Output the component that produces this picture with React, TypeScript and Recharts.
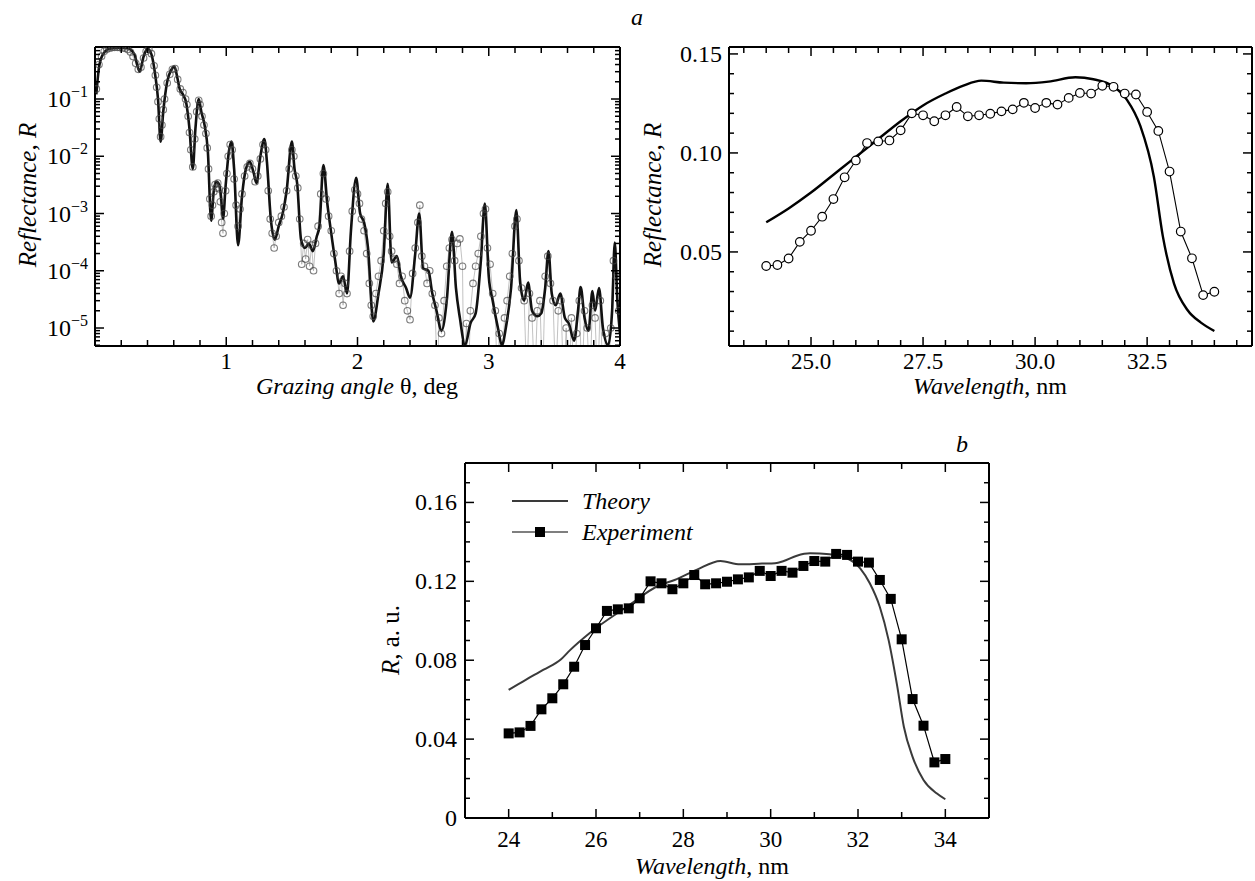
import React from 'react';
import { ComposedChart, Line, XAxis, YAxis, Legend } from 'recharts';

const FONT = 'Liberation Serif, DejaVu Serif, serif';

// ---- panel a (left): reflectance vs grazing angle, [theta, R]
const xrrTheory: [number, number][] = [
  [0.01, 0.12], [0.03, 0.35], [0.06, 0.6], [0.1, 0.74], [0.15, 0.78], [0.2, 0.79], [0.25, 0.77], [0.3, 0.6],
  [0.34, 0.3], [0.37, 0.55], [0.4, 0.76], [0.43, 0.6], [0.46, 0.25], [0.48, 0.1], [0.5, 0.018], [0.52, 0.06],
  [0.55, 0.2], [0.58, 0.32], [0.605, 0.37], [0.625, 0.25], [0.645, 0.15], [0.67, 0.12], [0.695, 0.085], [0.72, 0.03],
  [0.745, 0.006], [0.765, 0.03], [0.79, 0.1], [0.81, 0.06], [0.835, 0.035], [0.86, 0.012], [0.885, 7.5e-4], [0.905, 2.5e-3],
  [0.925, 3.6e-3], [0.945, 3.2e-3], [0.96, 2e-3], [0.975, 8e-4], [0.995, 3e-3], [1.02, 0.012], [1.04, 0.018], [1.06, 0.006],
  [1.09, 2.8e-4], [1.12, 2e-3], [1.15, 6e-3], [1.18, 8e-3], [1.21, 5e-3], [1.23, 3.4e-3], [1.26, 0.01], [1.29, 0.02],
  [1.31, 0.008], [1.34, 7.8e-4], [1.37, 3.5e-4], [1.4, 6e-4], [1.43, 1e-3], [1.46, 2.5e-3], [1.5, 0.018], [1.52, 6e-3],
  [1.54, 3.4e-3], [1.57, 3.5e-4], [1.6, 2.5e-4], [1.63, 3e-4], [1.66, 2.2e-4], [1.69, 4e-4], [1.71, 6e-4], [1.74, 7e-3],
  [1.77, 1.5e-3], [1.8, 4.5e-4], [1.83, 1.5e-4], [1.86, 6e-5], [1.89, 8e-5], [1.92, 4e-5], [1.95, 5e-4], [1.99, 4.2e-3],
  [2.02, 1e-3], [2.05, 7e-4], [2.08, 2.5e-4], [2.12, 1.3e-5], [2.16, 4e-5], [2.2, 2e-4], [2.23, 3.3e-3], [2.26, 1.4e-4],
  [2.3, 1.8e-4], [2.33, 8e-5], [2.37, 5e-5], [2.4, 3.4e-5], [2.44, 2e-4], [2.47, 1e-3], [2.5, 1.1e-4], [2.54, 1e-4],
  [2.57, 4e-5], [2.6, 2.1e-5], [2.64, 9e-6], [2.68, 3e-5], [2.72, 4.8e-4], [2.75, 5e-5], [2.78, 1.5e-5], [2.82, 5e-6],
  [2.86, 1.2e-5], [2.9, 1.8e-5], [2.94, 1.5e-4], [2.97, 1.5e-3], [3.0, 8e-5], [3.03, 3e-5], [3.07, 1e-5], [3.1, 5e-6],
  [3.13, 1e-5], [3.17, 5e-5], [3.21, 1.15e-3], [3.24, 6e-5], [3.27, 3e-5], [3.3, 6.2e-5], [3.33, 2e-5], [3.37, 1.6e-5],
  [3.4, 1.8e-5], [3.43, 5e-5], [3.455, 2.2e-4], [3.48, 4e-5], [3.51, 2.5e-5], [3.545, 4e-5], [3.58, 1.5e-5], [3.61, 1.2e-5],
  [3.65, 6e-6], [3.68, 2e-5], [3.7, 5.2e-5], [3.73, 1.5e-5], [3.76, 9e-6], [3.79, 4.4e-5], [3.81, 2e-5], [3.84, 5e-5],
  [3.87, 1e-5], [3.91, 5e-6], [3.94, 2e-5], [3.96, 3.1e-4], [3.98, 3e-5], [4.0, 8e-6],
];

// measured points; 1e-6 = drop-out below the axis
const xrrMeasured: [number, number][] = [
  [0.01, 0.15], [0.03, 0.4], [0.05, 0.56], [0.07, 0.68], [0.09, 0.74], [0.11, 0.77], [0.13, 0.79], [0.15, 0.8],
  [0.17, 0.8], [0.19, 0.79], [0.21, 0.78], [0.23, 0.77], [0.25, 0.73], [0.27, 0.66], [0.29, 0.55], [0.31, 0.42],
  [0.33, 0.33], [0.35, 0.36], [0.37, 0.52], [0.39, 0.68], [0.41, 0.74], [0.43, 0.62], [0.45, 0.38], [0.46, 0.26],
  [0.47, 0.16], [0.48, 0.09], [0.49, 0.045], [0.5, 0.022], [0.51, 0.035], [0.52, 0.065], [0.53, 0.1], [0.55, 0.19],
  [0.57, 0.27], [0.59, 0.33], [0.61, 0.34], [0.63, 0.22], [0.65, 0.15], [0.67, 0.13], [0.69, 0.1], [0.7, 0.08],
  [0.71, 0.05], [0.72, 0.026], [0.73, 0.013], [0.745, 0.0065], [0.76, 0.02], [0.775, 0.06], [0.79, 0.095], [0.8, 0.08],
  [0.815, 0.05], [0.83, 0.035], [0.845, 0.025], [0.855, 0.014], [0.865, 0.006], [0.875, 0.0018], [0.885, 9e-4], [0.895, 1.4e-3],
  [0.905, 2.4e-3], [0.915, 3.2e-3], [0.925, 2.8e-3], [0.935, 3.4e-3], [0.945, 2.7e-3], [0.955, 1.6e-3], [0.965, 7e-4], [0.975, 4.5e-4],
  [0.985, 1e-3], [0.995, 2.5e-3], [1.005, 5e-3], [1.015, 0.01], [1.03, 0.016], [1.045, 0.013], [1.06, 4e-3], [1.075, 1.4e-3],
  [1.09, 6e-4], [1.105, 1.2e-3], [1.12, 2.2e-3], [1.14, 4.5e-3], [1.16, 6.5e-3], [1.18, 7.5e-3], [1.2, 6e-3], [1.22, 3.6e-3],
  [1.24, 4.5e-3], [1.26, 9e-3], [1.28, 0.016], [1.3, 0.013], [1.32, 2.5e-3], [1.335, 8e-4], [1.35, 4.5e-4], [1.365, 2.5e-4],
  [1.38, 4e-4], [1.4, 7e-4], [1.42, 9e-4], [1.44, 1.3e-3], [1.46, 2.5e-3], [1.48, 6e-3], [1.5, 0.013], [1.515, 0.01],
  [1.53, 4.5e-3], [1.545, 2.8e-3], [1.56, 8e-4], [1.575, 1.3e-4], [1.59, 3e-4], [1.605, 1.6e-4], [1.62, 3.5e-4], [1.635, 1.2e-4],
  [1.65, 2.8e-4], [1.665, 1e-4], [1.68, 3e-4], [1.7, 6e-4], [1.72, 2.2e-3], [1.74, 5e-3], [1.76, 1.8e-3], [1.78, 9e-4],
  [1.8, 5e-4], [1.82, 2e-4], [1.84, 1e-4], [1.86, 4e-5], [1.875, 8e-5], [1.89, 2.5e-5], [1.905, 6e-5], [1.92, 4e-5],
  [1.94, 2.2e-4], [1.96, 1.1e-3], [1.98, 2.6e-3], [2.0, 2.2e-3], [2.015, 1.5e-3], [2.03, 8e-4], [2.05, 5e-4], [2.07, 2e-4],
  [2.09, 6e-5], [2.105, 2.5e-5], [2.12, 1.6e-5], [2.14, 4e-5], [2.16, 8e-5], [2.18, 1.5e-4], [2.2, 5e-4], [2.215, 1.5e-3],
  [2.23, 2.4e-3], [2.245, 4e-4], [2.26, 2.2e-4], [2.28, 1.6e-4], [2.3, 1.3e-4], [2.32, 6e-5], [2.34, 8e-5], [2.36, 3e-5],
  [2.38, 2e-5], [2.4, 1.4e-5], [2.42, 9e-5], [2.44, 2.5e-4], [2.46, 7e-4], [2.475, 1.4e-3], [2.49, 1.8e-4], [2.51, 1.2e-4],
  [2.53, 6e-5], [2.55, 1e-4], [2.57, 4e-5], [2.59, 2.5e-5], [2.61, 1e-6], [2.62, 1.5e-5], [2.64, 8e-6], [2.66, 3e-5],
  [2.68, 1.2e-4], [2.7, 2.5e-4], [2.72, 3.5e-4], [2.74, 1.5e-4], [2.76, 3e-4], [2.78, 3.6e-4], [2.8, 1.2e-4], [2.81, 1e-6],
  [2.83, 1.2e-5], [2.845, 1e-6], [2.86, 2e-5], [2.88, 6e-5], [2.9, 1.2e-4], [2.92, 2e-4], [2.94, 4e-4], [2.96, 1e-3],
  [2.975, 1.2e-3], [2.99, 2.5e-4], [3.01, 1.3e-4], [3.03, 4e-5], [3.05, 2e-5], [3.065, 1e-6], [3.08, 8e-6], [3.1, 1e-6],
  [3.12, 1.5e-5], [3.14, 3e-5], [3.16, 8e-5], [3.18, 2e-4], [3.2, 6e-4], [3.215, 8e-4], [3.23, 1.5e-4], [3.25, 5e-5],
  [3.27, 3e-5], [3.29, 1e-6], [3.31, 4e-5], [3.33, 1.5e-5], [3.35, 1e-6], [3.37, 2e-5], [3.39, 3e-5], [3.41, 1e-6],
  [3.43, 8e-5], [3.45, 1.8e-4], [3.47, 6e-5], [3.49, 3e-5], [3.51, 1e-6], [3.53, 2e-5], [3.55, 3e-5], [3.57, 1e-6],
  [3.59, 1e-5], [3.61, 1e-6], [3.63, 1.5e-5], [3.65, 1e-6], [3.67, 8e-6], [3.69, 3e-5], [3.71, 1e-6], [3.73, 2e-5],
  [3.75, 1e-5], [3.77, 1e-6], [3.79, 2.5e-5], [3.81, 1.5e-5], [3.83, 1e-6], [3.85, 3e-5], [3.87, 1e-6], [3.89, 8e-6],
  [3.91, 1e-6], [3.93, 1e-5], [3.95, 1.5e-4], [3.97, 8e-5], [3.99, 2e-5],
];

// ---- wavelength panels
const wlMeasured = [
  24, 24.25, 24.5, 24.75, 25, 25.25, 25.5, 25.75, 26, 26.25, 26.5, 26.75, 27, 27.25, 27.5, 27.75, 28, 28.25, 28.5, 28.75,
  29, 29.25, 29.5, 29.75, 30, 30.25, 30.5, 30.75, 31, 31.25, 31.5, 31.75, 32, 32.25, 32.5, 32.75, 33, 33.25, 33.5, 33.75, 34,
];
const rMeasured = [
  0.0429, 0.0434, 0.0467, 0.0551, 0.0607, 0.0678, 0.0767, 0.0877, 0.0962, 0.105, 0.1058, 0.1063, 0.1114, 0.12, 0.119, 0.116,
  0.119, 0.1232, 0.1185, 0.119, 0.1198, 0.121, 0.122, 0.1253, 0.1227, 0.1253, 0.1244, 0.1278, 0.1303, 0.13, 0.1339, 0.1334,
  0.13, 0.1295, 0.1207, 0.1111, 0.0906, 0.0603, 0.0468, 0.0282, 0.0299,
];

const wlTheoryA = [24, 24.5, 25, 25.5, 26, 26.5, 27, 27.5, 28, 28.4, 28.8, 29.3, 29.8, 30.3, 30.9, 31.3, 31.75, 32.05, 32.35, 32.65, 32.85, 33.1, 33.4, 33.7, 34];
const rTheoryA = [0.065, 0.072, 0.08, 0.089, 0.098, 0.107, 0.116, 0.124, 0.13, 0.134, 0.1365, 0.1355, 0.1352, 0.136, 0.1382, 0.1372, 0.1335, 0.1268, 0.1135, 0.088, 0.058, 0.034, 0.0207, 0.0143, 0.0101];

const wlTheoryB = [24, 24.4, 24.8, 25.2, 25.4, 25.85, 26.7, 27.45, 27.8, 28.3, 28.85, 29.3, 29.8, 30.1, 30.3, 30.6, 30.9, 31.35, 31.75, 32.05, 32.27, 32.5, 32.7, 32.9, 33.05, 33.25, 33.5, 33.8, 34];
const rTheoryB = [0.065, 0.0702, 0.0752, 0.0805, 0.085, 0.0937, 0.107, 0.118, 0.1207, 0.1258, 0.1303, 0.1286, 0.129, 0.1292, 0.1303, 0.133, 0.1342, 0.1337, 0.1317, 0.1266, 0.119, 0.107, 0.0903, 0.0666, 0.0463, 0.031, 0.0193, 0.0125, 0.0095];

// tick values
const decadeTicks = [1e-5, 1e-4, 1e-3, 1e-2, 1e-1];
const decadeLabels = ['−5', '−4', '−3', '−2', '−1'];
const angleTicks = Array.from({ length: 21 }, (_, i) => +(i * 0.2).toFixed(1));
const angleLabels = [1, 2, 3, 4];
const wlTicksA = Array.from({ length: 23 }, (_, i) => 23.5 + i * 0.5);
const wlLabelsA = [25, 27.5, 30, 32.5];
const rTicksA = Array.from({ length: 15 }, (_, i) => +((i + 1) * 0.01).toFixed(2));
const rLabelsA = [0.05, 0.1, 0.15];
const wlTicksB = Array.from({ length: 11 }, (_, i) => 24 + i);
const wlLabelsB = [24, 26, 28, 30, 32, 34];
const rTicksB = Array.from({ length: 18 }, (_, i) => +(i * 0.01).toFixed(2));
const rLabelsB = [0, 0.04, 0.08, 0.12, 0.16];

const LOG_MIN = 4.85e-6;
const LOG_MAX = 0.81;
const logTicks: number[] = [];
[1e-6, 1e-5, 1e-4, 1e-3, 1e-2, 1e-1].forEach((d) => {
  for (let k = 1; k <= 9; k++) {
    const v = k * d;
    if (v >= LOG_MIN && v <= LOG_MAX) logTicks.push(v);
  }
});

const pairs = (arr: [number, number][]) => arr.map(([x, y]) => ({ x, y }));
const zip = (xs: number[], ys: number[]) => xs.map((x, i) => ({ x, y: ys[i] }));

const near = (list: number[], v: number) => list.some((m) => Math.abs(m - v) < 1e-6 * Math.max(1, Math.abs(m)));
const nearLog = (list: number[], v: number) => list.some((m) => Math.abs(Math.log10(m) - Math.log10(v)) < 1e-6);

const txt = { fontFamily: FONT };

// vertical axis ticks drawn inward from a fixed axis x
const yTick = (axisX: number, dir: 1 | -1, isMajor: (v: number) => boolean, render?: (v: number) => React.ReactNode, gap = 7, fs = 24) =>
  (p: any) => {
    const v = p.payload.value as number;
    const major = isMajor(v);
    return (
      <g>
        <line x1={axisX} x2={axisX + dir * (major ? 9 : 5)} y1={p.y} y2={p.y} stroke="#000" strokeWidth={1.5} />
        {major && render ? (
          <text x={axisX - gap} y={p.y + 8} textAnchor="end" style={txt} fontSize={fs} fill="#000">
            {render(v)}
          </text>
        ) : null}
      </g>
    );
  };

const xTick = (axisY: number, dir: 1 | -1, isMajor: (v: number) => boolean, render?: (v: number) => React.ReactNode, base = 23, fs = 23) =>
  (p: any) => {
    const v = p.payload.value as number;
    const major = isMajor(v);
    const label = render ? render(v) : null;
    return (
      <g>
        <line x1={p.x} x2={p.x} y1={axisY} y2={axisY + dir * (major ? 9 : 6)} stroke="#000" strokeWidth={1.5} />
        {label !== null && label !== undefined ? (
          <text x={p.x} y={axisY + base} textAnchor="middle" style={txt} fontSize={fs} fill="#000">
            {label}
          </text>
        ) : null}
      </g>
    );
  };

const frame = { stroke: '#000', strokeWidth: 2 };

function AngleChart() {
  const L = 95, R = 620, T = 47, B = 346;
  const isMajorX = (v: number) => Math.abs(v - Math.round(v)) < 1e-6;
  const isMajorY = (v: number) => nearLog(decadeTicks, v);
  const yLabel = (v: number) => {
    const i = decadeTicks.findIndex((d) => Math.abs(Math.log10(d) - Math.log10(v)) < 1e-6);
    return [
      <tspan key="b">10</tspan>,
      <tspan key="e" dy={-10} fontSize={16}>{decadeLabels[i]}</tspan>,
    ];
  };
  const xLabel = (v: number) => (near(angleLabels, v) ? String(Math.round(v)) : null);
  return (
    <ComposedChart width={640} height={400} margin={{ top: 0, right: 0, bottom: 0, left: 0 }}>
      <XAxis xAxisId="b" dataKey="x" type="number" domain={[0, 4]} ticks={angleTicks} interval={0} height={400 - B}
        allowDataOverflow tickLine={false} axisLine={frame} tick={xTick(B, -1, isMajorX, xLabel)} />
      <XAxis xAxisId="t" orientation="top" dataKey="x" type="number" domain={[0, 4]} ticks={angleTicks} interval={0} height={T}
        allowDataOverflow tickLine={false} axisLine={frame} tick={xTick(T, 1, isMajorX)} />
      <YAxis yAxisId="l" type="number" scale="log" domain={[LOG_MIN, LOG_MAX]} ticks={logTicks} interval={0} width={L}
        allowDataOverflow tickLine={false} axisLine={frame} tick={yTick(L, 1, isMajorY, yLabel)} />
      <YAxis yAxisId="r" orientation="right" type="number" scale="log" domain={[LOG_MIN, LOG_MAX]} ticks={logTicks} interval={0}
        width={640 - R} allowDataOverflow tickLine={false} axisLine={frame} tick={yTick(R, -1, isMajorY)} />
      <Line xAxisId="t" yAxisId="r" data={pairs(xrrMeasured)} dataKey="y" type="linear" stroke="#a8a8a8" strokeWidth={0.7}
        dot={{ r: 3.3, fill: 'none', stroke: '#444', strokeWidth: 1.1, strokeOpacity: 0.7 }} isAnimationActive={false} />
      <Line xAxisId="b" yAxisId="l" data={pairs(xrrTheory)} dataKey="y" type="monotone" stroke="#111" strokeWidth={2.6}
        dot={false} isAnimationActive={false} />
    </ComposedChart>
  );
}

function WavelengthChartA() {
  const L = 89, R = 612, T = 47, B = 346;
  const isMajorX = (v: number) => near(wlLabelsA, v);
  const isMajorY = (v: number) => near(rLabelsA, v);
  return (
    <ComposedChart width={615} height={400} margin={{ top: 0, right: 0, bottom: 0, left: 0 }}>
      <XAxis xAxisId="b" dataKey="x" type="number" domain={[23.17, 34.84]} ticks={wlTicksA} interval={0} height={400 - B}
        allowDataOverflow tickLine={false} axisLine={frame}
        tick={xTick(B, -1, isMajorX, (v) => (near(wlLabelsA, v) ? v.toFixed(1) : null))} />
      <XAxis xAxisId="t" orientation="top" dataKey="x" type="number" domain={[23.17, 34.84]} ticks={wlTicksA} interval={0} height={T}
        allowDataOverflow tickLine={false} axisLine={frame} tick={xTick(T, 1, isMajorX)} />
      <YAxis yAxisId="l" type="number" domain={[0.0025, 0.1535]} ticks={rTicksA} interval={0} width={L}
        allowDataOverflow tickLine={false} axisLine={frame} tick={yTick(L, 1, isMajorY, (v) => v.toFixed(2))} />
      <YAxis yAxisId="r" orientation="right" type="number" domain={[0.0025, 0.1535]} ticks={rTicksA} interval={0} width={615 - R}
        allowDataOverflow tickLine={false} axisLine={frame} tick={yTick(R, -1, isMajorY)} />
      <Line xAxisId="b" yAxisId="l" data={zip(wlTheoryA, rTheoryA)} dataKey="y" type="monotone" stroke="#000" strokeWidth={2.4}
        dot={false} isAnimationActive={false} />
      <Line xAxisId="t" yAxisId="r" data={zip(wlMeasured, rMeasured)} dataKey="y" type="linear" stroke="#000" strokeWidth={1.1}
        dot={{ r: 4.3, fill: '#fff', stroke: '#000', strokeWidth: 1.2 }} isAnimationActive={false} />
    </ComposedChart>
  );
}

const Square = (p: any) => (
  <rect key={`sq-${p.index}`} x={p.cx - 5} y={p.cy - 5} width={10} height={10} fill="#000" />
);

function LegendBox() {
  return (
    <svg width={230} height={62} style={{ overflow: 'visible' }}>
      <line x1={2} x2={58} y1={15} y2={15} stroke="#3a3a3a" strokeWidth={2} />
      <text x={72} y={23} style={txt} fontSize={24} fontStyle="italic" fill="#000">Theory</text>
      <line x1={2} x2={58} y1={46} y2={46} stroke="#000" strokeWidth={1.2} />
      <rect x={25} y={41} width={10} height={10} fill="#000" />
      <text x={72} y={54} style={txt} fontSize={24} fontStyle="italic" fill="#000">Experiment</text>
    </svg>
  );
}

function WavelengthChartB() {
  const L = 105, R = 629, T = 43, B = 398;
  const isMajorX = (v: number) => near(wlLabelsB, v);
  const isMajorY = (v: number) => near(rLabelsB, v);
  const yLab = (v: number) => (v === 0 ? '0' : v.toFixed(2));
  return (
    <ComposedChart width={640} height={461} margin={{ top: 0, right: 0, bottom: 0, left: 0 }}>
      <XAxis xAxisId="b" dataKey="x" type="number" domain={[23, 35]} ticks={wlTicksB} interval={0} height={461 - B}
        allowDataOverflow tickLine={false} axisLine={frame}
        tick={xTick(B, -1, isMajorX, (v) => (near(wlLabelsB, v) ? String(v) : null), 29, 23)} />
      <XAxis xAxisId="t" orientation="top" dataKey="x" type="number" domain={[23, 35]} ticks={wlTicksB} interval={0} height={T}
        allowDataOverflow tickLine={false} axisLine={frame} tick={xTick(T, 1, isMajorX)} />
      <YAxis yAxisId="l" type="number" domain={[0, 0.18]} ticks={rTicksB} interval={0} width={L}
        allowDataOverflow tickLine={false} axisLine={frame} tick={yTick(L, 1, isMajorY, yLab, 8)} />
      <YAxis yAxisId="r" orientation="right" type="number" domain={[0, 0.18]} ticks={rTicksB} interval={0} width={640 - R}
        allowDataOverflow tickLine={false} axisLine={frame} tick={yTick(R, -1, isMajorY)} />
      <Legend layout="vertical" align="center" verticalAlign="middle" content={() => <LegendBox />}
        wrapperStyle={{ left: 150, top: 66, width: 230, height: 62 }} />
      <Line xAxisId="b" yAxisId="l" data={zip(wlTheoryB, rTheoryB)} dataKey="y" type="monotone" stroke="#3a3a3a" strokeWidth={2}
        dot={false} isAnimationActive={false} />
      <Line xAxisId="t" yAxisId="r" data={zip(wlMeasured, rMeasured)} dataKey="y" type="linear" stroke="#000" strokeWidth={1.2}
        dot={Square} isAnimationActive={false} />
    </ComposedChart>
  );
}

function Titles() {
  const t = { fontSize: 24, fill: '#000' } as const;
  return (
    <svg width={1255} height={881} style={{ position: 'absolute', left: 0, top: 0, pointerEvents: 'none', fontFamily: FONT }}>
      <text x={637} y={25} {...t} fontStyle="italic" textAnchor="middle">a</text>
      <text x={962} y={452} {...t} fontStyle="italic" textAnchor="middle">b</text>
      <text x={357} y={394} {...t} textAnchor="middle">
        <tspan fontStyle="italic">Grazing angle</tspan> θ, deg
      </text>
      <text x={990} y={394} {...t} textAnchor="middle">
        <tspan fontStyle="italic">Wavelength</tspan>, nm
      </text>
      <text x={712} y={874} {...t} textAnchor="middle">
        <tspan fontStyle="italic">Wavelength</tspan>, nm
      </text>
      <text x={36} y={195} {...t} fontSize={25} textAnchor="middle" fontStyle="italic" transform="rotate(-90 36 195)">Reflectance, R</text>
      <text x={661} y={195} {...t} fontSize={25} textAnchor="middle" fontStyle="italic" transform="rotate(-90 661 195)">Reflectance, R</text>
      <text x={399} y={640} {...t} fontSize={25} textAnchor="middle" transform="rotate(-90 399 640)">
        <tspan fontStyle="italic">R</tspan>, a. u.
      </text>
    </svg>
  );
}

export default function App() {
  return (
    <div style={{ position: 'absolute', left: 0, top: 0, width: 1255, height: 881, background: '#fff', overflow: 'hidden', fontFamily: FONT }}>
      <div style={{ position: 'absolute', left: 0, top: 0 }}>
        <AngleChart />
      </div>
      <div style={{ position: 'absolute', left: 640, top: 0 }}>
        <WavelengthChartA />
      </div>
      <div style={{ position: 'absolute', left: 360, top: 420 }}>
        <WavelengthChartB />
      </div>
      <Titles />
    </div>
  );
}
